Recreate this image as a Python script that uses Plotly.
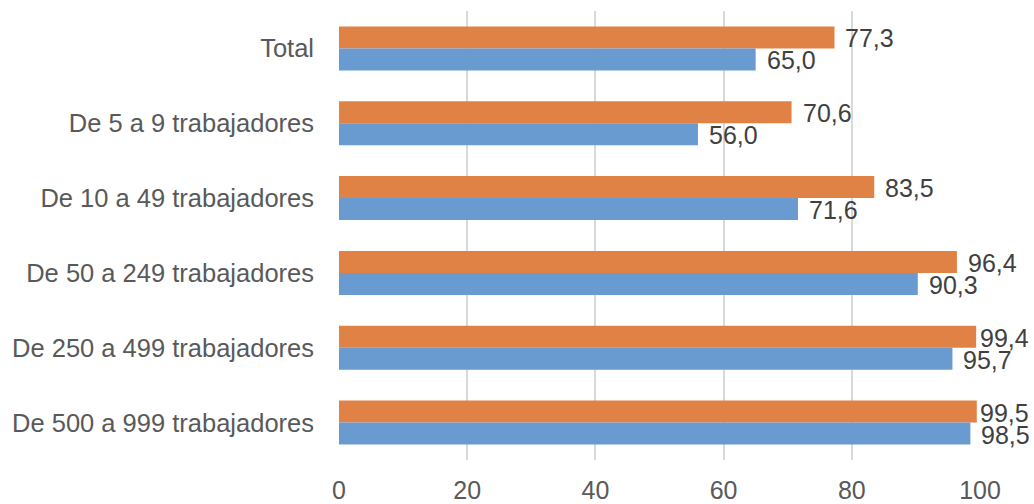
import plotly.graph_objects as go

categories = ["Total", "De 5 a 9 trabajadores", "De 10 a 49 trabajadores",
              "De 50 a 249 trabajadores", "De 250 a 499 trabajadores",
              "De 500 a 999 trabajadores"]
serie_naranja = [77.3, 70.6, 83.5, 96.4, 99.4, 99.5]
serie_azul = [65.0, 56.0, 71.6, 90.3, 95.7, 98.5]
x_ticks = [0, 20, 40, 60, 80, 100]

FONT = "Liberation Sans, Arial, sans-serif"
label_font = dict(family=FONT, size=25, color="#404040")

W, H = 1034, 504
L, R, T, B = 339, 54, 10.5, 43.5
plot_w = W - L - R
px_per_unit = plot_w / 100.0

fig = go.Figure()
fig.add_trace(go.Bar(
    y=categories, x=serie_naranja, orientation="h",
    marker=dict(color="#E08246", line=dict(width=0)),
    showlegend=False, hoverinfo="x+y",
))
fig.add_trace(go.Bar(
    y=categories, x=serie_azul, orientation="h",
    marker=dict(color="#699BD1", line=dict(width=0)),
    showlegend=False, hoverinfo="x+y",
))

def fmt(v):
    return f"{v:.1f}".replace(".", ",")

def shift_for(v):
    # keep labels inside the chart area like Excel does
    room = (100 - v) * px_per_unit - 1.5
    return min(9, room)

annotations = []
for cat, v in zip(categories, serie_naranja):
    annotations.append(dict(x=v, y=cat, xref="x", yref="y", text=fmt(v),
                            showarrow=False, xanchor="left", yanchor="middle",
                            xshift=shift_for(v), yshift=10, font=label_font))
for cat, v in zip(categories, serie_azul):
    annotations.append(dict(x=v, y=cat, xref="x", yref="y", text=fmt(v),
                            showarrow=False, xanchor="left", yanchor="middle",
                            xshift=shift_for(v), yshift=-12, font=label_font))

fig.update_layout(
    width=W, height=H,
    margin=dict(l=L, r=R, t=T, b=B, autoexpand=False),
    barmode="group", bargap=0.413, bargroupgap=0,
    separators=",.",
    paper_bgcolor="white", plot_bgcolor="white",
    font=dict(family=FONT, size=25, color="#595959"),
    annotations=annotations,
    xaxis=dict(range=[0, 100], tickvals=x_ticks, showgrid=True,
               gridcolor="#D9D9D9", gridwidth=2, zeroline=False,
               showline=False, ticks="", ticklabelstandoff=13,
               tickfont=dict(family=FONT, size=25, color="#595959")),
    yaxis=dict(autorange="reversed", showgrid=False, zeroline=False,
               showline=False, ticks="", ticklabelstandoff=24,
               tickfont=dict(family=FONT, size=25.5, color="#595959")),
)

fig.write_html(
    "out.html",
    config={"displayModeBar": False},
    post_script="document.body.style.margin='0';document.body.style.overflow='hidden';",
)
